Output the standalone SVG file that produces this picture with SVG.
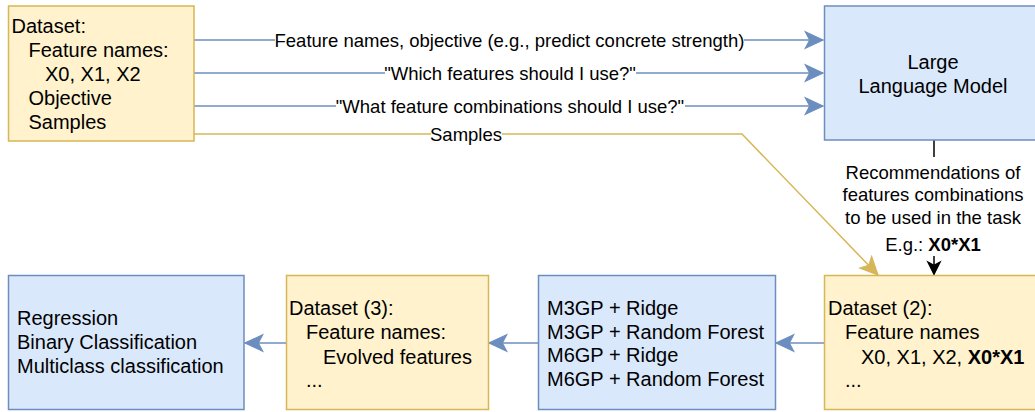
<svg xmlns="http://www.w3.org/2000/svg" width="1035" height="412" viewBox="0 0 1035 412">
<style>
  .blue { fill: #dae8fc; stroke: #6c8ebf; stroke-width: 1.5; }
  .yellow { fill: #fff2cc; stroke: #d6b656; stroke-width: 1.5; }
  .t { font-family: "Liberation Sans", Arial, sans-serif; font-size: 20px; fill: #000; }
  .lbl { font-family: "Liberation Sans", Arial, sans-serif; font-size: 18.5px; fill: #000; }
  .eb { stroke: #6c8ebf; stroke-width: 1.5; fill: none; }
  .ey { stroke: #d6b656; stroke-width: 1.5; fill: none; }
  .ek { stroke: #000; stroke-width: 1.5; fill: none; }
  .bg { fill: #fff; }
</style>
<defs>
  <marker id="ab" markerUnits="userSpaceOnUse" markerWidth="20" markerHeight="20" viewBox="-17 -9 18 18" refX="0" refY="0" orient="auto">
    <path d="M0,0 L-16,-7.5 L-12,0 L-16,7.5 Z" fill="#6c8ebf" stroke="#6c8ebf" stroke-width="1"/>
  </marker>
  <marker id="ay" markerUnits="userSpaceOnUse" markerWidth="20" markerHeight="20" viewBox="-17 -9 18 18" refX="0" refY="0" orient="auto">
    <path d="M0,0 L-16,-7.5 L-12,0 L-16,7.5 Z" fill="#d6b656" stroke="#d6b656" stroke-width="1"/>
  </marker>
  <marker id="ak" markerUnits="userSpaceOnUse" markerWidth="16" markerHeight="16" viewBox="-13 -7 14 14" refX="0" refY="0" orient="auto">
    <path d="M0,0 L-11,-5.5 L-8,0 L-11,5.5 Z" fill="#000" stroke="#000" stroke-width="1"/>
  </marker>
</defs>

<g id="connectors">
  <line class="eb" x1="194" y1="40" x2="823" y2="40" marker-end="url(#ab)"/>
  <rect class="bg" x="275" y="29" width="469" height="22"/>
  <text class="lbl" x="509.5" y="46.5" text-anchor="middle">Feature names, objective (e.g., predict concrete strength)</text>

  <line class="eb" x1="194" y1="73" x2="823" y2="73" marker-end="url(#ab)"/>
  <rect class="bg" x="385" y="62" width="251" height="22"/>
  <text class="lbl" x="510" y="79.5" text-anchor="middle">"Which features should I use?"</text>

  <line class="eb" x1="194" y1="106" x2="823" y2="106" marker-end="url(#ab)"/>
  <rect class="bg" x="336" y="95" width="349" height="22"/>
  <text class="lbl" x="510" y="112.5" text-anchor="middle">"What feature combinations should I use?"</text>

  <polyline class="ey" points="194,134 742,134 878,275" marker-end="url(#ay)"/>
  <rect class="bg" x="431" y="124" width="71" height="20"/>
  <text class="lbl" x="466" y="140.5" text-anchor="middle">Samples</text>

  <line class="ek" x1="934" y1="140" x2="934" y2="157"/>
  <text class="lbl" x="933" y="178.5" text-anchor="middle">Recommendations of</text>
  <text class="lbl" x="933" y="201" text-anchor="middle">features combinations</text>
  <text class="lbl" x="933" y="223.5" text-anchor="middle">to be used in the task</text>
  <text class="lbl" x="933" y="251" text-anchor="middle">E.g.: <tspan font-weight="bold">X0*X1</tspan></text>
  <line class="ek" x1="934" y1="256" x2="934" y2="274.5" marker-end="url(#ak)"/>

  <line class="eb" x1="824" y1="343" x2="776" y2="343" marker-end="url(#ab)"/>
  <line class="eb" x1="538" y1="343" x2="489" y2="343" marker-end="url(#ab)"/>
  <line class="eb" x1="286" y1="343" x2="245" y2="343" marker-end="url(#ab)"/>
</g>

<g id="dataset">
  <rect class="yellow" x="8.5" y="6" width="185.5" height="135"/>
  <text class="t" x="11.5" y="33">Dataset:</text>
  <text class="t" x="28.5" y="57">Feature names:</text>
  <text class="t" x="45" y="81">X0, X1, X2</text>
  <text class="t" x="28.5" y="105">Objective</text>
  <text class="t" x="28.5" y="129">Samples</text>
</g>

<g id="llm">
  <rect class="blue" x="824.5" y="6" width="217" height="134"/>
  <text class="t" x="933" y="69" text-anchor="middle">Large</text>
  <text class="t" x="933" y="93" text-anchor="middle">Language Model</text>
</g>

<g id="dataset2">
  <rect class="yellow" x="824.5" y="275.5" width="217" height="134"/>
  <text class="t" x="828" y="315">Dataset (2):</text>
  <text class="t" x="845" y="339">Feature names</text>
  <text class="t" x="861" y="363.5">X0, X1, X2, <tspan font-weight="bold">X0*X1</tspan></text>
  <text class="t" x="845" y="387">...</text>
</g>

<g id="models">
  <rect class="blue" x="538.5" y="275.5" width="237" height="134"/>
  <text class="t" x="547" y="315">M3GP + Ridge</text>
  <text class="t" x="547" y="338.5">M3GP + Random Forest</text>
  <text class="t" x="547" y="362">M6GP + Ridge</text>
  <text class="t" x="547" y="385.5">M6GP + Random Forest</text>
</g>

<g id="dataset3">
  <rect class="yellow" x="286.5" y="275.5" width="202" height="134"/>
  <text class="t" x="289" y="315">Dataset (3):</text>
  <text class="t" x="306" y="339">Feature names:</text>
  <text class="t" x="323" y="363.5">Evolved features</text>
  <text class="t" x="306" y="387">...</text>
</g>

<g id="tasks">
  <rect class="blue" x="8.5" y="275.5" width="235.5" height="134"/>
  <text class="t" x="17" y="325">Regression</text>
  <text class="t" x="17" y="349">Binary Classification</text>
  <text class="t" x="17" y="373">Multiclass classification</text>
</g>
</svg>
